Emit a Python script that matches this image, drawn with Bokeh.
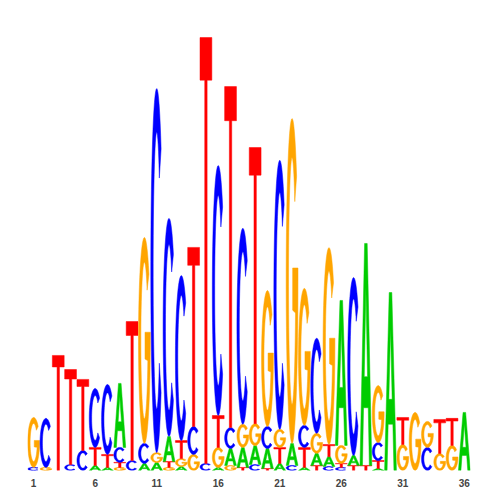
import numpy as np
from bokeh.plotting import figure
from bokeh.models import Range1d, FixedTicker
from bokeh.embed import file_html
from bokeh.resources import INLINE

# ---- data (information content per base, bits) ----
positions = list(range(1, 37))
bits_A = [0, 0, 0, 0, 0, 0.023, 0.014, 0.291, 0, 0.032, 0.036, 0.114, 0.018, 0, 0, 0.014, 0.077, 0.091,
          0.086, 0.091, 0.032, 0.1, 0.014, 0.055, 0.045, 0.659, 0.045, 1.009, 0.009, 0.809, 0, 0, 0, 0, 0, 0.264]
bits_C = [0.014, 0.223, 0, 0.027, 0.091, 0.268, 0.318, 0.068, 0.045, 0.091, 1.655, 0.991, 0.75, 0.127, 0.032, 1.136, 0.095, 0.891,
          0.027, 0.1, 1.223, 0.023, 0.1, 0.432, 0.018, 0.014, 0.809, 0, 0.082, 0, 0, 0, 0.105, 0, 0, 0]
bits_G = [0.227, 0.014, 0, 0, 0, 0, 0, 0.014, 0, 0.936, 0.045, 0.014, 0.036, 0.073, 0, 0.091, 0.023, 0.105,
          0.1, 0.618, 0.082, 1.477, 0.623, 0.091, 0.895, 0.082, 0, 0, 0.259, 0, 0.118, 0.264, 0.118, 0.077, 0.114, 0]
bits_T = [0, 0, 0.523, 0.432, 0.323, 0.082, 0.059, 0.023, 0.632, 0, 0, 0.027, 0.082, 0.814, 1.936, 0.145, 1.55, 0.014,
          1.255, 0.009, 0.073, 0, 0.091, 0.023, 0.055, 0.018, 0.023, 0.023, 0.036, 0, 0.123, 0, 0, 0.155, 0.123, 0]
tick_positions = [1, 6, 11, 16, 21, 26, 31, 36]
base_colors = {"A": "#00CC00", "C": "#0000FF", "G": "#FFA500", "T": "#FF0000"}


# ---- glyph outlines in a unit box ----
def arc(cx, cy, rx, ry, a0, a1, n=48):
    t = np.radians(np.linspace(a0, a1, n))
    return list(cx + rx * np.cos(t)), list(cy + ry * np.sin(t))


def shape(letter):
    if letter == "A":
        outer = ([0, 0.39, 0.61, 1, 0.79, 0.70, 0.30, 0.21], [0, 1, 1, 0, 0, 0.26, 0.26, 0])
        hole = ([0.36, 0.64, 0.5], [0.40, 0.40, 0.80])
        return [outer, hole]
    if letter == "T":
        return [([0, 1, 1, 0.6, 0.6, 0.4, 0.4, 0], [1, 1, 0.9, 0.9, 0, 0, 0.9, 0.9])]
    if letter == "C":
        ox, oy = arc(0.5, 0.5, 0.5, 0.5, 42, 318)
        ix, iy = arc(0.5, 0.5, 0.3, 0.38, 318, 42)
        return [(ox + ix, oy + iy)]
    # G
    ox, oy = arc(0.5, 0.5, 0.5, 0.5, 40, 360)
    ix, iy = arc(0.5, 0.5, 0.3, 0.38, 345, 40)
    xs = ox + [1.0, 0.55, 0.55] + ix
    ys = oy + [0.54, 0.54, 0.41] + iy
    return [(xs, ys)]


width_frac = 0.96
bits = {"A": bits_A, "C": bits_C, "G": bits_G, "T": bits_T}
xs_all, ys_all, cols = [], [], []
for i, pos in enumerate(positions):
    col = sorted([(bits[b][i], b) for b in "ACGT" if bits[b][i] > 0])
    base = 0.0
    for h, b in col:
        rings_x, rings_y = [], []
        for ux, uy in shape(b):
            rings_x.append([pos - width_frac / 2 + u * width_frac for u in ux])
            rings_y.append([base + v * h for v in uy])
        xs_all.append([rings_x])
        ys_all.append([rings_y])
        cols.append(base_colors[b])
        base += h

p = figure(frame_width=443, frame_height=440, output_backend="svg", toolbar_location=None,
           x_range=Range1d(0.5, 36.5), y_range=Range1d(0, 2.0), y_axis_location=None,
           min_border_left=27, min_border_right=14, min_border_top=30, min_border_bottom=10)
p.multi_polygons(xs=xs_all, ys=ys_all, fill_color=cols, line_color=cols, line_width=0.5)

p.xaxis.ticker = FixedTicker(ticks=tick_positions)
p.xaxis.axis_line_color = None
p.xaxis.major_tick_line_color = None
p.xaxis.minor_tick_line_color = None
p.xaxis.major_tick_out = 0
p.xaxis.major_tick_in = 0
p.xaxis.major_label_text_font = "Liberation Sans"
p.xaxis.major_label_text_font_style = "bold"
p.xaxis.major_label_text_font_size = "10px"
p.xaxis.major_label_standoff = 8
p.xgrid.grid_line_color = None
p.ygrid.grid_line_color = None
p.outline_line_color = None

open("out.html", "w").write(file_html(p, INLINE))
